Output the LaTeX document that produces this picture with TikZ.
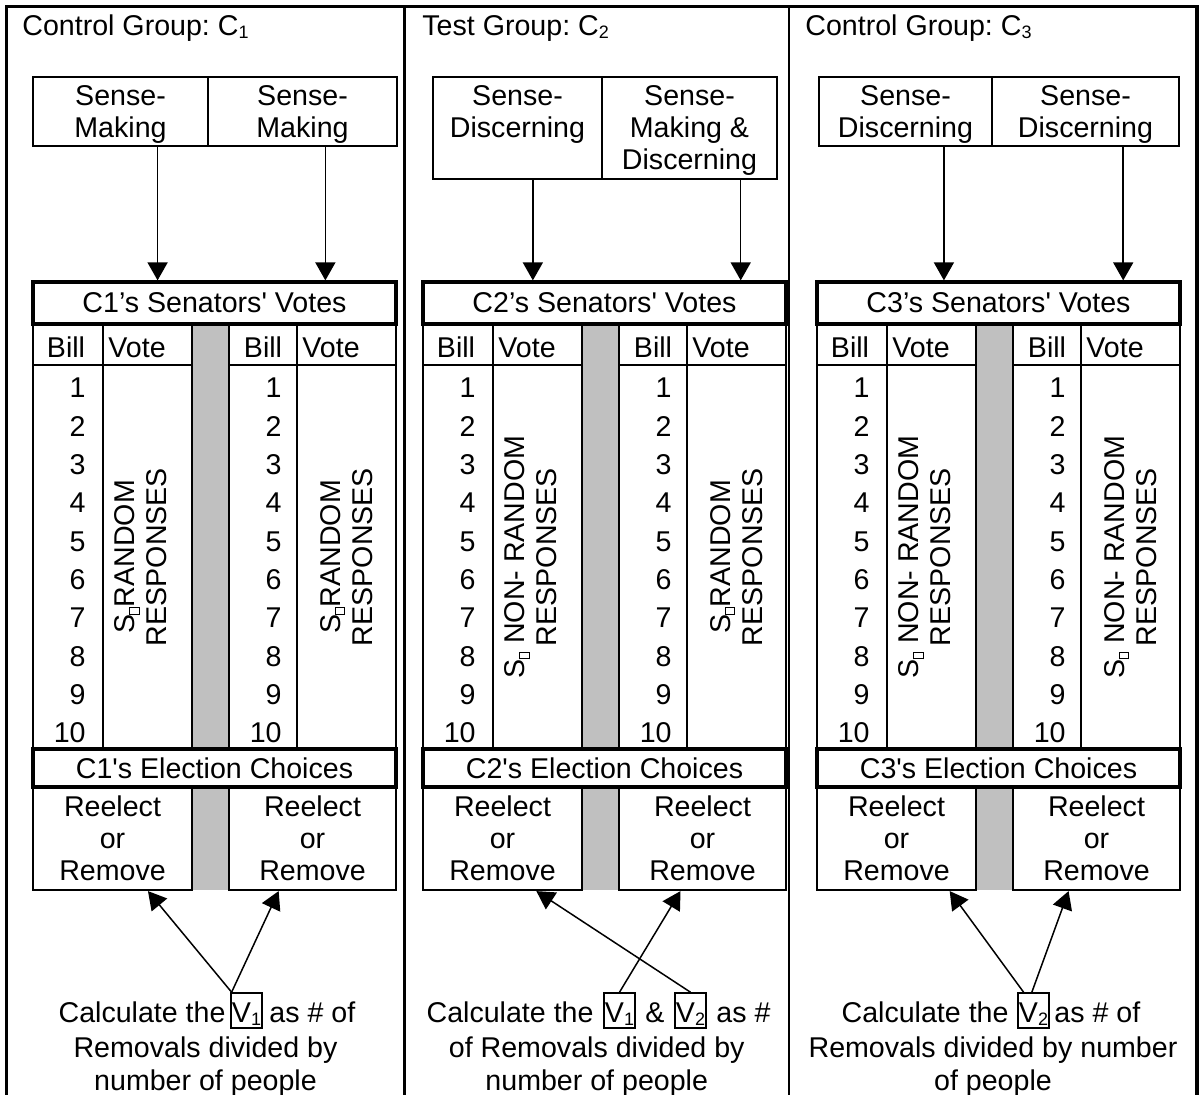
\documentclass[tikz,border=0pt]{standalone}
\usepackage{fontspec}
\setmainfont{Liberation Sans}
\usetikzlibrary{arrows.meta,positioning,calc}
\frenchspacing

\definecolor{bandgray}{HTML}{C0C0C0}
\newcommand{\lowsub}[1]{\raisebox{-1.5pt}{\fontsize{9pt}{9pt}\selectfont #1}}
\newcommand{\tofu}{\raisebox{-2pt}{\setlength{\fboxsep}{0pt}\setlength{\fboxrule}{0.4pt}\fbox{\rule{0pt}{4.5pt}\rule{3pt}{0pt}}}}
\newcommand{\straightq}{\textquotesingle}

% 一组投票表：#1 组号，#2 左边 x，#3/#4 两个 Vote 栏的竖排文字
\newcommand{\votetable}[4]{%
  % 灰带
  \fill[bandgray] ({#2+159},324) rectangle ({#2+196},890);
  % 表体
  \draw[midline] (#2,324) rectangle ({#2+159},749);
  \draw[midline] ({#2+196},324) rectangle ({#2+363},749);
  \draw[thinline] ({#2+70},324) -- ({#2+70},749);
  \draw[thinline] ({#2+264},324) -- ({#2+264},749);
  \draw[thinline] (#2,365) -- ({#2+159},365);
  \draw[thinline] ({#2+196},365) -- ({#2+363},365);
  % 表头
  \node[txt, anchor=base] (hb#1l) at ({#2+33},358) {Bill};
  \node[txt, anchor=base west] (hv#1l) at ({#2+75},358) {Vote};
  \node[txt, anchor=base] (hb#1r) at ({#2+230},358) {Bill};
  \node[txt, anchor=base west] (hv#1r) at ({#2+269},358) {Vote};
  % 议案编号
  \foreach \n in {1,...,10} {
    \node[txt, anchor=base east] (n#1l\n) at ({#2+53},{398+38.33*(\n-1)}) {\n};
    \node[txt, anchor=base east] (n#1r\n) at ({#2+249},{398+38.33*(\n-1)}) {\n};
  }
  % 竖排文字
  \node[txt, rotate=90, align=center] (rv#1l) at ({#2+108},557) {#3};
  \node[txt, rotate=90, align=center] (rv#1r) at ({#2+313.5},557) {#4};
  % 标题框、去留框、选举框
  \node[thickbox, minimum width=181.5pt, minimum height=21pt] (vt#1) at ({#2+181.5},303) {C#1’s Senators\straightq\ Votes};
  \node[midbox, minimum width=79.5pt, minimum height=51.5pt] (rl#1) at ({#2+79.5},838.5) {Reelect\\or\\Remove};
  \node[midbox, minimum width=83.5pt, minimum height=51.5pt] (rr#1) at ({#2+279.5},838.5) {Reelect\\or\\Remove};
  \node[thickbox, minimum width=181.5pt, minimum height=19pt] (el#1) at ({#2+181.5},768) {C#1\straightq s Election Choices};
}

\begin{document}
\begin{tikzpicture}[x=0.5pt, y=-0.5pt,
    every node/.style={font=\fontsize{14.3pt}{16pt}\selectfont},
    outerline/.style={line width=1.6pt},
    midline/.style={line width=1.1pt},
    thinline/.style={line width=0.8pt},
    cell/.style={draw, line width=0.8pt, inner sep=0pt},
    thickbox/.style={draw, fill=white, line width=1.6pt, inner sep=0pt},
    midbox/.style={draw, fill=white, line width=1.1pt, inner sep=0pt, align=center},
    txt/.style={inner sep=0pt},
    vbox/.style={draw, line width=0.8pt, inner xsep=0.6pt, inner ysep=0pt, text height=14.5pt, text depth=3pt},
    arr/.style={-{Triangle[width=10pt,length=9pt]}, line width=0.75pt},
  ]
  \useasboundingbox (0,0) rectangle (1199,1095);

  % 外框和分栏
  \draw[outerline] (6.5,1110) -- (6.5,6.5) -- (1197,6.5) -- (1197,1110);
  \draw[midline] (404.5,6.5) -- (404.5,1110);
  \draw[midline] (789,6.5) -- (789,1110);

  % 组名
  \node[txt, anchor=base west] (g1) at (22,36) {Control Group: C\lowsub{1}};
  \node[txt, anchor=base west] (g2) at (422,36) {Test Group: C\lowsub{2}};
  \node[txt, anchor=base west] (g3) at (805,36) {Control Group: C\lowsub{3}};

  % Sense 框
  \node[cell, minimum width=87.5pt, minimum height=34.5pt] (s1l) at (120.5,111.5) {};
  \node[cell, minimum width=94.5pt, minimum height=34.5pt] (s1r) at (302.5,111.5) {};
  \node[cell, minimum width=84.5pt, minimum height=51pt] (s2l) at (517.5,128) {};
  \node[cell, minimum width=87.5pt, minimum height=51pt] (s2r) at (689.5,128) {};
  \node[cell, minimum width=86.5pt, minimum height=34.5pt] (s3l) at (905.5,111.5) {};
  \node[cell, minimum width=93.5pt, minimum height=34.5pt] (s3r) at (1085.5,111.5) {};
  \node[txt, anchor=north, align=center] (t1l) at ($(s1l.north)+(0,8.6)$) {Sense-\\Making};
  \node[txt, anchor=north, align=center] (t1r) at ($(s1r.north)+(0,8.6)$) {Sense-\\Making};
  \node[txt, anchor=north, align=center] (t2l) at ($(s2l.north)+(0,8.6)$) {Sense-\\Discerning};
  \node[txt, anchor=north, align=center] (t2r) at ($(s2r.north)+(0,8.6)$) {Sense-\\Making \&\\Discerning};
  \node[txt, anchor=north, align=center] (t3l) at ($(s3l.north)+(0,8.6)$) {Sense-\\Discerning};
  \node[txt, anchor=north, align=center] (t3r) at ($(s3r.north)+(0,8.6)$) {Sense-\\Discerning};

  % 投票表
  \votetable{1}{33}{S\tofu RANDOM\\RESPONSES}{S\tofu RANDOM\\RESPONSES}
  \votetable{2}{423}{S\tofu\ NON- RANDOM\\RESPONSES}{S\tofu RANDOM\\RESPONSES}
  \votetable{3}{817}{S\tofu\ NON- RANDOM\\RESPONSES}{S\tofu\ NON- RANDOM\\RESPONSES}

  % Sense 框到投票表
  \coordinate (a1l) at ($(s1l.south west)!0.71!(s1l.south east)$);
  \coordinate (a1r) at ($(s1r.south west)!0.62!(s1r.south east)$);
  \coordinate (a2l) at ($(s2l.south west)!0.59!(s2l.south east)$);
  \coordinate (a2r) at ($(s2r.south west)!0.79!(s2r.south east)$);
  \coordinate (a3l) at ($(s3l.south west)!0.72!(s3l.south east)$);
  \coordinate (a3r) at ($(s3r.south west)!0.70!(s3r.south east)$);
  \draw[arr] (a1l) -- (a1l |- vt1.north);
  \draw[arr] (a1r) -- (a1r |- vt1.north);
  \draw[arr] (a2l) -- (a2l |- vt2.north);
  \draw[arr] (a2r) -- (a2r |- vt2.north);
  \draw[arr] (a3l) -- (a3l |- vt3.north);
  \draw[arr] (a3r) -- (a3r |- vt3.north);

  % 计算 V1
  \node[vbox, anchor=base] (v1a) at (246.5,1022) {V\lowsub{1}};
  \node[txt, base left=2pt of v1a] (k1a) {Calculate the};
  \node[txt, base right=3pt of v1a] (k1b) {as \# of};
  \node[txt, anchor=north, align=center, font=\fontsize{14.3pt}{16.5pt}\selectfont] (k1c) at (205.5,1036.6) {Removals divided by\\number of people};
  \draw[arr] ($(v1a.north west)!0.05!(v1a.north east)$) -- ($(rl1.south west)!0.72!(rl1.south east)$);
  \draw[arr] ($(v1a.north west)!0.05!(v1a.north east)$) -- ($(rr1.south west)!0.30!(rr1.south east)$);

  % 计算 V1 和 V2
  \node[vbox, anchor=base] (v2a) at (619.5,1022) {V\lowsub{1}};
  \node[txt, base left=4.5pt of v2a] (k2a) {Calculate the};
  \node[txt, base right=4.5pt of v2a] (k2m) {\&};
  \node[vbox, base right=4.5pt of k2m] (v2b) {V\lowsub{2}};
  \node[txt, base right=4.5pt of v2b] (k2b) {as \#};
  \node[txt, anchor=north, align=center, font=\fontsize{14.3pt}{16.5pt}\selectfont] (k2c) at (596.75,1036.6) {of Removals divided by\\number of people};
  \draw[arr] (v2b.north) -- ($(rl2.south west)!0.71!(rl2.south east)$);
  \draw[arr] (v2a.north) -- ($(rr2.south west)!0.37!(rr2.south east)$);

  % 计算 V2
  \node[vbox, anchor=base] (v3a) at (1033.5,1022) {V\lowsub{2}};
  \node[txt, base left=4pt of v3a] (k3a) {Calculate the};
  \node[txt, base right=2pt of v3a] (k3b) {as \# of};
  \node[txt, anchor=north, align=center, font=\fontsize{14.3pt}{16.5pt}\selectfont] (k3c) at (993,1036.6) {Removals divided by number\\of people};
  \draw[arr] ($(v3a.north west)!0.2!(v3a.north east)$) -- ($(rl3.south west)!0.83!(rl3.south east)$);
  \draw[arr] ($(v3a.north west)!0.45!(v3a.north east)$) -- ($(rr3.south west)!0.335!(rr3.south east)$);
\end{tikzpicture}
\end{document}
